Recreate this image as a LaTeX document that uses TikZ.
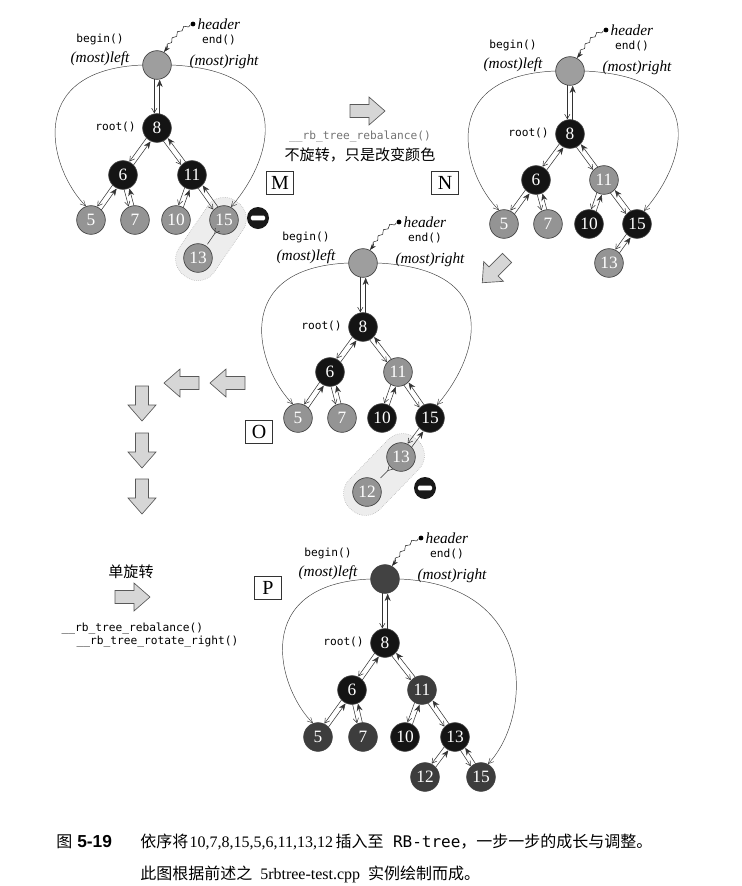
\documentclass[tikz,border=0pt]{standalone}
\usepackage{fontspec}
\setmainfont{Liberation Serif}
\setmonofont{DejaVu Sans Mono}
\newfontfamily\cjk{Noto Sans CJK SC}
\newfontfamily\capsf{Liberation Sans}
\usetikzlibrary{arrows.meta, calc, backgrounds, decorations.pathmorphing}

% a pair of links between a parent and a child
\newcommand\treelink[2]{%
  \draw[tochild] ($(#1)!2pt!-90:(#2)$) -- ($(#2)!2pt!90:(#1)$);
  \draw[toparent] ($(#2)!2pt!-90:(#1)$) -- ($(#1)!2pt!90:(#2)$);
}
% texts and pointer around a header node
\newcommand\headparts[1]{%
  \node[hdot] (#1dot) at ($(#1h)+(36,-41)$) {};
  \node[ital,anchor=west] (#1hd) at ($(#1dot)+(3,0)$) {header};
  \node[mono] (#1end) at ($(#1h)+(62,-25)$) {end()};
  \node[mono] (#1beg) at ($(#1h)+(-57,-26)$) {begin()};
  \node[ital] (#1ml) at ($(#1h)+(-57,-6)$) {(most)left};
  \node[ital] (#1mr) at ($(#1h)+(67,-3)$) {(most)right};
  \node[mono,anchor=east] (#1rt) at ($(#18.west)+(-5,-1)$) {root()};
  \draw[wavy] (#1dot) .. controls +(-12,4) and +(10,-12) .. (#1h.62);
}

\tikzset{
  pics/fatarrow/.style={code={
    \draw[fatline] (-17,-6.5) -- (2,-6.5) -- (2,-14) -- (18,0) -- (2,14) -- (2,6.5) -- (-17,6.5) -- cycle;}},
}

\begin{document}
\begin{tikzpicture}[
  x=0.75pt, y=-0.75pt,
  tn/.style={circle,minimum size=21.5pt,inner sep=0pt,draw=black!75,line width=0.5pt,
             text=white,font=\fontsize{13}{13}\selectfont},
  rnode/.style={tn,fill=black!42},
  bnode/.style={tn,fill=black!92},
  hdr/.style={tn,fill=black!38},
  pred/.style={tn,fill=black!76},
  phdr/.style={tn,fill=black!74},
  hdot/.style={circle,fill=black,inner sep=0pt,minimum size=3.6pt},
  mono/.style={font=\ttfamily\fontsize{8.4}{10}\selectfont,inner sep=1pt},
  ital/.style={font=\itshape\fontsize{11.5}{12}\selectfont,inner sep=1pt},
  cjkt/.style={font=\cjk\fontsize{11.3}{13}\selectfont,inner sep=1pt},
  capt/.style={anchor=west,font=\fontsize{12}{13}\selectfont,inner sep=0pt},
  caseb/.style={draw=black!80,line width=0.5pt,minimum width=20pt,minimum height=17pt,
                inner sep=0pt,font=\fontsize{15}{15}\selectfont},
  tochild/.style={draw=black!80,line width=0.4pt,-{Straight Barb[length=3.5pt,width=4pt]},
                  shorten <=10.6pt,shorten >=11pt},
  toparent/.style={draw=black!80,line width=0.4pt,-{Stealth[length=5.5pt,width=4.5pt]},
                   shorten <=10.6pt,shorten >=11pt},
  single/.style={draw=black!80,line width=0.4pt,-{Straight Barb[length=3.5pt,width=4pt]},
                 shorten <=11pt,shorten >=11pt},
  loopline/.style={draw=black!75,line width=0.35pt,-{Straight Barb[length=4pt,width=4pt]}},
  wavy/.style={draw=black!85,line width=0.4pt,decorate,
               decoration={snake,amplitude=1pt,segment length=6pt,post length=4pt},
               -{Stealth[length=5pt,width=3.5pt]}},
  blob/.style={draw=black!35,densely dotted,line width=0.4pt,fill=black!7,
               rounded corners=15pt,minimum height=32pt},
  minus/.style={circle,fill=black!90,minimum size=16.5pt,inner sep=0pt,
                path picture={\fill[white,rounded corners=1pt]
                  ([xshift=-5.3pt,yshift=-1.8pt]path picture bounding box.center) rectangle
                  ([xshift=5.3pt,yshift=1.8pt]path picture bounding box.center);}},
  fatline/.style={draw=black!65,fill=black!16,line width=0.5pt,line join=miter},
]
\useasboundingbox (0,0) rectangle (742,886);

%% M
\begin{scope}[shift={(157,65)}]
\node[hdr]   (mh)  at (0,0)     {};
\node[bnode] (m8)  at (0,63)    {8};
\node[bnode] (m6)  at (-34,110) {6};
\node[bnode] (m11) at (35,110)  {11};
\node[rnode] (m5)  at (-66,155) {5};
\node[rnode] (m7)  at (-22,155) {7};
\node[rnode] (m10) at (19,155)  {10};
\node[rnode] (m15) at (67,155)  {15};
\node[rnode] (m13) at (41,193)  {13};
\end{scope}
\begin{scope}[on background layer]
\node[blob,minimum width=68pt,rotate=55.6] (mblob) at ($(m15)!.5!(m13)$) {};
\end{scope}
\foreach \p/\c in {h/8,8/6,8/11,6/5,6/7,11/10,11/15} \treelink{m\p}{m\c};
\draw[single] (m15) -- (m13);
\headparts{m}
\draw[loopline] (mh.west) .. controls +(-120,5) and +(-36,-36) .. (m5.110);
\draw[loopline] (mh.east) .. controls +(128,6) and +(41,-47) .. (m15.62);
\node[minus] (mminus) at (258,218) {};
\node[caseb] (cM) at (280,183) {M};

%% M -> N
\pic at (367,111) {fatarrow};
\node[mono,text=black!55] (rbN) at (360,137) {\_\_rb\_tree\_rebalance()};
\node[cjkt] (txN) at (360,155) {不旋转，只是改变颜色};
\node[caseb] (cN) at (445,183) {N};

%% N
\begin{scope}[shift={(570,71)}]
\node[hdr]   (nh)  at (0,0)     {};
\node[bnode] (n8)  at (0,63)    {8};
\node[bnode] (n6)  at (-34,109) {6};
\node[rnode] (n11) at (34,109)  {11};
\node[rnode] (n5)  at (-66,153) {5};
\node[rnode] (n7)  at (-22,153) {7};
\node[bnode] (n10) at (19,153)  {10};
\node[bnode] (n15) at (67,153)  {15};
\node[rnode] (n13) at (39,192)  {13};
\end{scope}
\foreach \p/\c in {h/8,8/6,8/11,6/5,6/7,11/10,11/15,15/13} \treelink{n\p}{n\c};
\headparts{n}
\draw[loopline] (nh.west) .. controls +(-120,5) and +(-36,-36) .. (n5.110);
\draw[loopline] (nh.east) .. controls +(128,6) and +(41,-47) .. (n15.62);

%% N -> O
\pic[rotate=-135] at (495,270) {fatarrow};

%% O
\begin{scope}[shift={(363,263)}]
\node[hdr]   (oh)  at (0,0)     {};
\node[bnode] (o8)  at (0,64)    {8};
\node[bnode] (o6)  at (-33,109) {6};
\node[rnode] (o11) at (35,109)  {11};
\node[rnode] (o5)  at (-65,155) {5};
\node[rnode] (o7)  at (-21,155) {7};
\node[bnode] (o10) at (19,155)  {10};
\node[bnode] (o15) at (67,155)  {15};
\node[rnode] (o13) at (38,194)  {13};
\node[rnode] (o12) at (4,229)   {12};
\end{scope}
\begin{scope}[on background layer]
\node[blob,minimum width=72pt,rotate=45.8] (oblob) at ($(o13)!.5!(o12)$) {};
\end{scope}
\foreach \p/\c in {h/8,8/6,8/11,6/5,6/7,11/10,11/15,15/13} \treelink{o\p}{o\c};
\draw[single] (o13) -- (o12);
\headparts{o}
\draw[loopline] (oh.west) .. controls +(-120,5) and +(-36,-36) .. (o5.110);
\draw[loopline] (oh.east) .. controls +(128,6) and +(41,-47) .. (o15.62);
\node[minus] (ominus) at (425,488) {};
\node[caseb] (cO) at (259,432) {O};

%% O -> P
\pic[rotate=180] at (228,383) {fatarrow};
\pic[rotate=180] at (182,383) {fatarrow};
\pic[rotate=-90] at (142,403) {fatarrow};
\pic[rotate=-90] at (142,450) {fatarrow};
\pic[rotate=-90] at (142,496) {fatarrow};
\node[cjkt] (txP) at (131,572) {单旋转};
\pic at (132,597) {fatarrow};
\node[mono,anchor=west] (rbP) at (60,629) {\_\_rb\_tree\_rebalance()};
\node[mono,anchor=west] (rrP) at (75,642) {\_\_rb\_tree\_rotate\_right()};
\node[caseb] (cP) at (268,588) {P};

%% P
\begin{scope}[shift={(385,579)}]
\node[phdr]  (ph)  at (0,0)     {};
\node[bnode] (p8)  at (0,64)    {8};
\node[bnode] (p6)  at (-33,111) {6};
\node[pred]  (p11) at (37,111)  {11};
\node[pred]  (p5)  at (-67,158) {5};
\node[pred]  (p7)  at (-22,158) {7};
\node[bnode] (p10) at (20,158)  {10};
\node[bnode] (p13) at (70,158)  {13};
\node[pred]  (p12) at (40,198)  {12};
\node[pred]  (p15) at (96,198)  {15};
\end{scope}
\foreach \p/\c in {h/8,8/6,8/11,6/5,6/7,11/10,11/13,13/12,13/15} \treelink{p\p}{p\c};
\headparts{p}
\draw[loopline] (ph.west) .. controls +(-120,5) and +(-36,-36) .. (p5.110);
\draw[loopline] (ph.east) .. controls +(140,6) and +(44,-46) .. (p15.62);

%% caption
\node[capt,font=\cjk\fontsize{12}{13}\selectfont] (fig) at (56,842) {图};
\node[capt,font=\capsf\bfseries\fontsize{13}{13}\selectfont] (fignum) at (77,842) {5-19};
\node[capt] (cap1) at (140,842)
  {{\cjk 依序将}\hspace{1pt}10,7,8,15,5,6,11,13,12\hspace{2pt}{\cjk 插入至}\hspace{7pt}{\ttfamily RB-tree}{\cjk ，一步一步的成长与调整。}};
\node[capt] (cap2) at (140,874)
  {{\cjk 此图根据前述之}\hspace{6pt}5rbtree-test.cpp\hspace{6pt}{\cjk 实例绘制而成。}};
\end{tikzpicture}
\end{document}
